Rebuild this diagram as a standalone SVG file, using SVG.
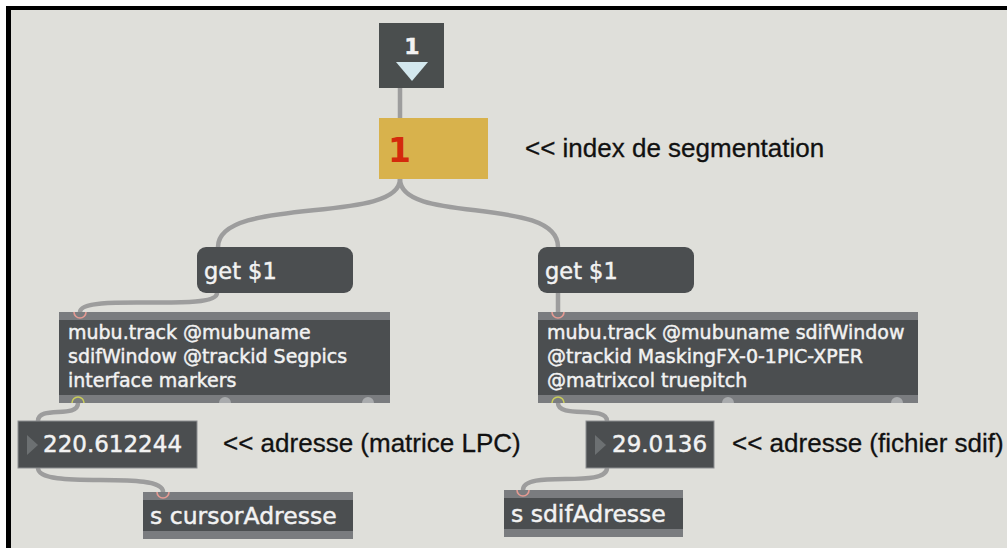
<svg xmlns="http://www.w3.org/2000/svg" width="1007" height="548" viewBox="0 0 1007 548">
<style>
.box{fill:#4b4e50;}
.stripe{fill:#7a7c7f;}
.bt{font-family:"DejaVu Sans",Verdana,sans-serif;fill:#f2f2f2;stroke:#f2f2f2;stroke-width:0.45;}
.lbl{font-family:"Liberation Sans",Arial,sans-serif;font-size:26px;fill:#111;stroke:#111;stroke-width:0.3;}
.cord{fill:none;stroke:#9d9d9d;stroke-width:4.5;stroke-linecap:round;}
.inl{fill:none;stroke:#e49a92;stroke-width:1.6;}
.outl{fill:none;stroke:#c9cc5a;stroke-width:1.6;}
.gout{fill:#a9abad;}
</style>
<rect x="0" y="0" width="1007" height="548" fill="#ffffff"/>
<rect x="6" y="6" width="1001" height="542" fill="#000"/>
<rect x="11" y="10" width="996" height="538" fill="#dfdfda"/>

<g id="connectors">
<path class="cord" d="M400,88 L400,118"/>
<path class="cord" d="M400,179 C400,225 218,195 218,247"/>
<path class="cord" d="M400,179 C400,225 558,195 558,247"/>
<path class="cord" d="M217,293 C217,313 80,292 80,312"/>
<path class="cord" d="M558,293 L558,312"/>
<path class="cord" d="M78,403 C78,419 38,405 38,421"/>
<path class="cord" d="M38,468 C38,491 163,469 163,492"/>
<path class="cord" d="M558,403 C558,419 607,405 607,421"/>
<path class="cord" d="M607,468 C607,489 523,469 523,490"/>
</g>

<g id="number-top">
<rect x="379" y="23" width="65" height="65" fill="#4a4e4e"/>
<text class="bt" x="412" y="54" font-size="22" font-weight="bold" text-anchor="middle">1</text>
<polygon points="396,62 428,62 412,81" fill="#d3e8ee"/>
</g>

<g id="number-index">
<rect x="379" y="118" width="109" height="61" fill="#d8b24c"/>
<text x="388" y="162" font-family="DejaVu Sans,sans-serif" font-weight="bold" font-size="33" fill="#d42a0c">1</text>
</g>
<g id="label-index"><text class="lbl" x="525" y="157">&lt;&lt; index de segmentation</text></g>

<g id="get-left">
<rect class="box" x="197" y="247" width="156" height="46" rx="9"/>
<text class="bt" x="204" y="279" font-size="22.5">get $1</text>
</g>
<g id="get-right">
<rect class="box" x="538" y="247" width="156" height="46" rx="9"/>
<text class="bt" x="545" y="279" font-size="22.5">get $1</text>
</g>

<g id="mubu-left">
<rect class="box" x="59" y="312" width="331" height="91"/>
<rect class="stripe" x="59" y="312" width="331" height="8"/>
<rect class="stripe" x="59" y="395" width="331" height="8"/>
<text class="bt" font-size="19" x="68" y="339">mubu.track @mubuname</text>
<text class="bt" font-size="19" x="68" y="363">sdifWindow @trackid Segpics</text>
<text class="bt" font-size="19" x="68" y="387">interface markers</text>
<path class="inl" d="M74,312 A6,6 0 0 0 86,312"/>
<path class="outl" d="M72,403 A6,6 0 0 1 84,403"/>
<path class="gout" d="M219,403 A6,6 0 0 1 231,403 Z"/>
<path class="gout" d="M362,403 A6,6 0 0 1 374,403 Z"/>
</g>

<g id="mubu-right">
<rect class="box" x="538" y="312" width="380" height="91"/>
<rect class="stripe" x="538" y="312" width="380" height="8"/>
<rect class="stripe" x="538" y="395" width="380" height="8"/>
<text class="bt" font-size="19" x="547" y="339">mubu.track @mubuname sdifWindow</text>
<text class="bt" font-size="19" x="547" y="363">@trackid MaskingFX-0-1PIC-XPER</text>
<text class="bt" font-size="19" x="547" y="387">@matrixcol truepitch</text>
<path class="inl" d="M552,312 A6,6 0 0 0 564,312"/>
<path class="outl" d="M552,403 A6,6 0 0 1 564,403"/>
<path class="gout" d="M722,403 A6,6 0 0 1 734,403 Z"/>
<path class="gout" d="M891,403 A6,6 0 0 1 903,403 Z"/>
</g>

<g id="number-lpc">
<rect class="box" x="18" y="421" width="179" height="47" stroke="#8c8e90" stroke-width="1"/>
<polygon points="27,435 38,445 27,455" fill="#6c7072"/>
<text class="bt" x="43" y="452" font-size="23">220.612244</text>
</g>
<g id="label-lpc"><text class="lbl" x="223" y="452">&lt;&lt; adresse (matrice LPC)</text></g>

<g id="number-sdif">
<rect class="box" x="586" y="421" width="128" height="47" stroke="#8c8e90" stroke-width="1"/>
<polygon points="595,435 606,445 595,455" fill="#6c7072"/>
<text class="bt" x="612" y="452" font-size="23">29.0136</text>
</g>
<g id="label-sdif"><text class="lbl" x="732" y="452">&lt;&lt; adresse (fichier sdif)</text></g>

<g id="send-cursor">
<rect class="box" x="143" y="492" width="210" height="47"/>
<rect class="stripe" x="143" y="492" width="210" height="8"/>
<rect class="stripe" x="143" y="531" width="210" height="8"/>
<text class="bt" x="150" y="524" font-size="23.5">s cursorAdresse</text>
<path class="inl" d="M157,492 A6,6 0 0 0 169,492"/>
</g>

<g id="send-sdif">
<rect class="box" x="504" y="490" width="179" height="47"/>
<rect class="stripe" x="504" y="490" width="179" height="8"/>
<rect class="stripe" x="504" y="529" width="179" height="8"/>
<text class="bt" x="511" y="522" font-size="23.5">s sdifAdresse</text>
<path class="inl" d="M517,490 A6,6 0 0 0 529,490"/>
</g>
</svg>
